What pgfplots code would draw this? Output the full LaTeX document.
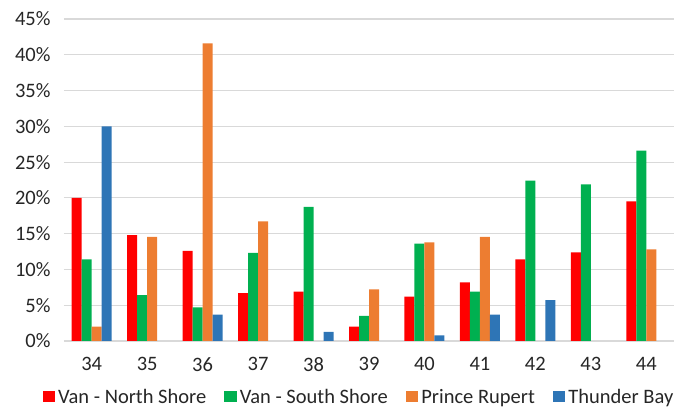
\documentclass[border=0pt]{standalone}
\usepackage{pgfplots}
\pgfplotsset{compat=1.18}
\usepackage{fontspec}
\setmainfont{Carlito}
\definecolor{cred}{HTML}{FF0000}
\definecolor{cgreen}{HTML}{00B050}
\definecolor{corange}{HTML}{ED7D31}
\definecolor{cblue}{HTML}{2E75B6}
\definecolor{cgrid}{HTML}{D9D9D9}
\definecolor{ctext}{HTML}{262626}
\begin{document}
\begin{tikzpicture}[x=1pt,y=1pt]
\path[use as bounding box] (-64,-68) rectangle (614,341);
\begin{axis}[
  at={(0,0)}, anchor=south west,
  scale only axis, width=610pt, height=322pt,
  ybar=0pt, bar width=10pt,
  xmin=33.5, xmax=44.5, ymin=0, ymax=45,
  xtick={34,...,44}, ytick={0,5,...,45},
  yticklabel={\pgfmathprintnumber{\tick}\%},
  /pgf/number format/assume math mode=true,
  ymajorgrids, grid style={cgrid, line width=1.2pt},
  axis line style={draw=none},
  major tick length=0pt,
  tick label style={font=\fontsize{20.5}{24}\selectfont, text=ctext},
  yticklabel style={xshift=-10pt},
  xticklabel style={yshift=-13pt},
  legend style={at={(0.5,0)}, yshift=-56pt, xshift=-10pt, anchor=center, draw=none, fill=none,
    legend columns=-1, font=\fontsize{20.5}{24}\selectfont, text=ctext,
    inner xsep=0pt, inner ysep=0pt,
    nodes={inner ysep=1pt},
    /tikz/every odd column/.append style={column sep=1pt},
    /tikz/every even column/.append style={column sep=16pt}},
  legend image code/.code={\fill[#1] (0pt,-5pt) rectangle (12.5pt,5.5pt);},
  every axis plot/.append style={draw=none},
  clip=false,
]
\addplot[fill=cred] coordinates {(34,20.0) (35,14.8) (36,12.6) (37,6.7) (38,6.9) (39,2.0) (40,6.2) (41,8.2) (42,11.4) (43,12.4) (44,19.5)};
\addplot[fill=cgreen] coordinates {(34,11.4) (35,6.4) (36,4.7) (37,12.3) (38,18.75) (39,3.5) (40,13.6) (41,6.9) (42,22.4) (43,21.9) (44,26.6)};
\addplot[fill=corange] coordinates {(34,2.0) (35,14.55) (36,41.6) (37,16.7) (39,7.2) (40,13.8) (41,14.55) (44,12.8)};
\addplot[fill=cblue] coordinates {(34,30.0) (36,3.7) (38,1.26) (40,0.8) (41,3.7) (42,5.7)};
\legend{Van - North Shore, Van - South Shore, Prince Rupert, Thunder Bay}
\end{axis}
\end{tikzpicture}
\end{document}
